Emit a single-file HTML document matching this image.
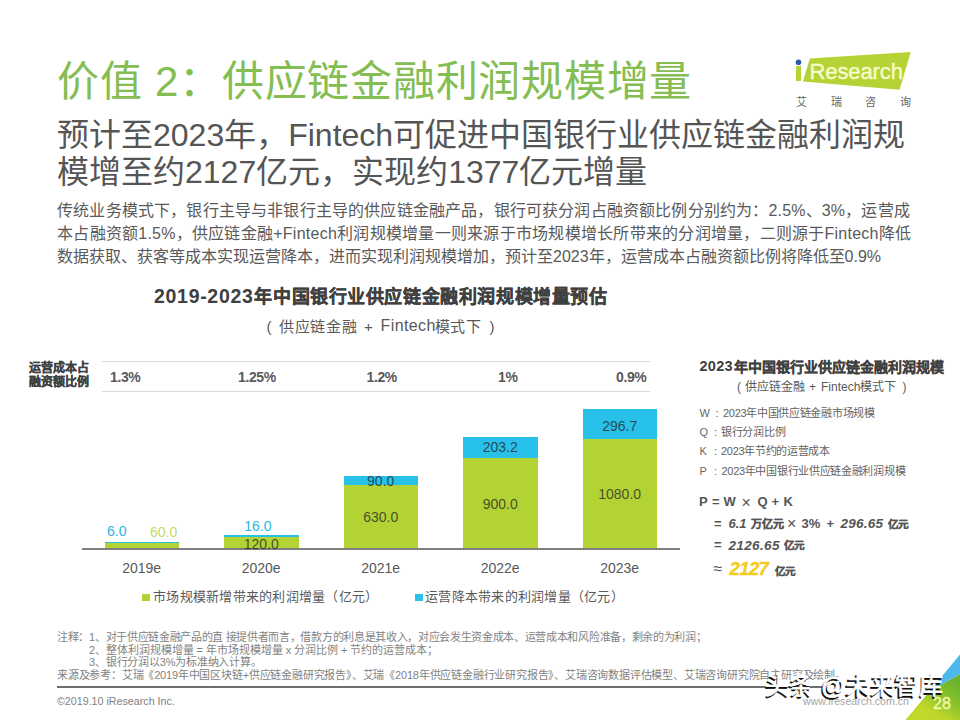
<!DOCTYPE html>
<html lang="zh-CN"><head><meta charset="utf-8">
<style>
html,body{margin:0;padding:0;background:#fff;}
body{width:960px;height:720px;position:relative;overflow:hidden;font-family:"Liberation Sans",sans-serif;color:#595959;}
.a{position:absolute;white-space:nowrap;}
</style></head><body>
<div class="a" style="left:57.20px;top:51.73px;font-size:42px;line-height:59px;color:#84bd52;letter-spacing:0.74px;">价值 2：供应链金融利润规模增量</div>
<div class="a" style="left:57.00px;top:112.90px;font-size:32px;line-height:45px;color:#555555;letter-spacing:0px;">预计至2023年，Fintech可促进中国银行业供应链金融利润规</div>
<div class="a" style="left:57.00px;top:150.40px;font-size:32px;line-height:45px;color:#555555;letter-spacing:0px;">模增至约2127亿元，实现约1377亿元增量</div>
<div class="a" style="left:57.00px;top:199.65px;font-size:16px;line-height:22px;color:#595959;letter-spacing:0.17px;">传统业务模式下，银行主导与非银行主导的供应链金融产品，银行可获分润占融资额比例分别约为：2.5%、3%，运营成</div>
<div class="a" style="left:57.00px;top:222.85px;font-size:16px;line-height:22px;color:#595959;letter-spacing:0.25px;">本占融资额1.5%，供应链金融+Fintech利润规模增量一则来源于市场规模增长所带来的分润增量，二则源于Fintech降低</div>
<div class="a" style="left:57.00px;top:245.65px;font-size:16px;line-height:22px;color:#595959;letter-spacing:0px;">数据获取、获客等成本实现运营降本，进而实现利润规模增加，预计至2023年，运营成本占融资额比例将降低至0.9%</div>
<svg class="a" style="left:0;top:0" width="960" height="120" viewBox="0 0 960 120">
  <polygon points="803,81.6 809.8,58.6 910.8,52 899.5,89.8" fill="#b5d334"/>
  <rect x="796" y="66" width="5" height="15" fill="#b5d334"/>
  <circle cx="798.5" cy="62.3" r="2.8" fill="#2b5ba8"/>
</svg>
<div class="a" style="left:809.50px;top:56.47px;font-size:22px;line-height:31px;color:#f4fbc8;letter-spacing:-0.1px;-webkit-text-stroke:0.45px #f4fbc8;">Research</div>
<div class="a" style="left:796.00px;top:94.88px;font-size:11px;line-height:15px;color:#666666;letter-spacing:23.7px;">艾瑞咨询</div>
<div class="a" style="left:154.00px;top:282.73px;font-size:19.5px;line-height:27px;color:#404040;font-weight:bold;letter-spacing:0.7px;">2019-2023</div>
<div class="a" style="left:254.40px;top:285.25px;font-size:18px;line-height:25px;color:#404040;font-weight:bold;letter-spacing:0.58px;-webkit-text-stroke:0.3px #404040;">年中国银行业供应链金融利润规模增量预估</div>
<div class="a" style="left:266.50px;top:315.69px;font-size:15px;line-height:21px;color:#595959;">(</div>
<div class="a" style="left:279.00px;top:316.30px;font-size:15px;line-height:21px;color:#595959;letter-spacing:0.7px;">供应链金融</div>
<div class="a" style="left:364.00px;top:315.69px;font-size:15px;line-height:21px;color:#595959;">+</div>
<div class="a" style="left:380.50px;top:315.05px;font-size:16px;line-height:22px;color:#595959;letter-spacing:0.4px;">Fintech</div>
<div class="a" style="left:434.50px;top:316.30px;font-size:15px;line-height:21px;color:#595959;letter-spacing:0.9px;">模式下</div>
<div class="a" style="left:489.50px;top:315.69px;font-size:15px;line-height:21px;color:#595959;">)</div>
<div class="a" style="left:29.00px;top:359.64px;font-size:12px;line-height:17px;color:#404040;font-weight:bold;-webkit-text-stroke:0.25px #404040;">运营成本占</div>
<div class="a" style="left:29.00px;top:373.64px;font-size:12px;line-height:17px;color:#404040;font-weight:bold;-webkit-text-stroke:0.25px #404040;">融资额比例</div>
<div class="a" style="left:102px;top:361px;width:548px;height:1px;background:#d9d9d9;"></div>
<div class="a" style="left:102px;top:391px;width:548px;height:1px;background:#d9d9d9;"></div>
<div class="a" style="left:110.00px;top:367.14px;font-size:14px;line-height:20px;color:#595959;font-weight:bold;letter-spacing:-0.4px;">1.3%</div>
<div class="a" style="left:238.00px;top:367.14px;font-size:14px;line-height:20px;color:#595959;font-weight:bold;letter-spacing:-0.4px;">1.25%</div>
<div class="a" style="left:366.50px;top:367.14px;font-size:14px;line-height:20px;color:#595959;font-weight:bold;letter-spacing:-0.4px;">1.2%</div>
<div class="a" style="left:498.00px;top:367.14px;font-size:14px;line-height:20px;color:#595959;font-weight:bold;letter-spacing:-0.4px;">1%</div>
<div class="a" style="left:616.00px;top:367.14px;font-size:14px;line-height:20px;color:#595959;font-weight:bold;letter-spacing:-0.4px;">0.9%</div>
<div class="a" style="left:104.5px;top:542.9px;width:74.5px;height:6.1px;background:#b3d234;"></div>
<div class="a" style="left:104.5px;top:542.29px;width:74.5px;height:0.61px;background:#27c1ea;"></div>
<div class="a" style="left:224px;top:536.81px;width:74.5px;height:12.19px;background:#b3d234;"></div>
<div class="a" style="left:224px;top:535.18px;width:74.5px;height:1.63px;background:#27c1ea;"></div>
<div class="a" style="left:343.5px;top:484.99px;width:74.5px;height:64.01px;background:#b3d234;"></div>
<div class="a" style="left:343.5px;top:475.85px;width:74.5px;height:9.14px;background:#27c1ea;"></div>
<div class="a" style="left:463px;top:457.56px;width:74.5px;height:91.44px;background:#b3d234;"></div>
<div class="a" style="left:463px;top:436.91px;width:74.5px;height:20.65px;background:#27c1ea;"></div>
<div class="a" style="left:582.5px;top:439.27px;width:74.5px;height:109.73px;background:#b3d234;"></div>
<div class="a" style="left:582.5px;top:409.13px;width:74.5px;height:30.14px;background:#27c1ea;"></div>
<div class="a" style="left:82px;top:548px;width:598px;height:2px;background:#7f7f7f;"></div>
<div class="a" style="left:107.00px;top:520.84px;font-size:14px;line-height:20px;color:#29b6e3;">6.0</div>
<div class="a" style="left:150.00px;top:521.64px;font-size:14px;line-height:20px;color:#c5d86a;">60.0</div>
<div class="a" style="left:207.89999999999998px;width:100px;text-align:center;top:517.84px;font-size:14px;line-height:16px;color:#29b6e3;">16.0</div>
<div class="a" style="left:211.2px;width:100px;text-align:center;top:535.64px;font-size:14px;line-height:16px;color:rgba(38,38,38,0.78);">120.0</div>
<div class="a" style="left:330.7px;width:100px;text-align:center;top:473.44px;font-size:14px;line-height:16px;color:rgba(38,38,38,0.78);">90.0</div>
<div class="a" style="left:330.7px;width:100px;text-align:center;top:509.44px;font-size:14px;line-height:16px;color:rgba(38,38,38,0.78);">630.0</div>
<div class="a" style="left:450.2px;width:100px;text-align:center;top:438.64px;font-size:14px;line-height:16px;color:rgba(38,38,38,0.78);">203.2</div>
<div class="a" style="left:450.2px;width:100px;text-align:center;top:495.64px;font-size:14px;line-height:16px;color:rgba(38,38,38,0.78);">900.0</div>
<div class="a" style="left:569.7px;width:100px;text-align:center;top:417.64px;font-size:14px;line-height:16px;color:rgba(38,38,38,0.78);">296.7</div>
<div class="a" style="left:569.7px;width:100px;text-align:center;top:486.44px;font-size:14px;line-height:16px;color:rgba(38,38,38,0.78);">1080.0</div>
<div class="a" style="left:91.69999999999999px;width:100px;text-align:center;top:560.14px;font-size:14px;line-height:16px;color:#595959;">2019e</div>
<div class="a" style="left:211.2px;width:100px;text-align:center;top:560.14px;font-size:14px;line-height:16px;color:#595959;">2020e</div>
<div class="a" style="left:330.7px;width:100px;text-align:center;top:560.14px;font-size:14px;line-height:16px;color:#595959;">2021e</div>
<div class="a" style="left:450.2px;width:100px;text-align:center;top:560.14px;font-size:14px;line-height:16px;color:#595959;">2022e</div>
<div class="a" style="left:569.7px;width:100px;text-align:center;top:560.14px;font-size:14px;line-height:16px;color:#595959;">2023e</div>
<div class="a" style="left:142px;top:593.5px;width:7.5px;height:7.5px;background:#b3d234;"></div>
<div class="a" style="left:153.00px;top:587.99px;font-size:13px;line-height:18px;color:#595959;letter-spacing:0.25px;">市场规模新增带来的利润增量（亿元）</div>
<div class="a" style="left:415px;top:593.5px;width:7.5px;height:7.5px;background:#27c1ea;"></div>
<div class="a" style="left:425.00px;top:587.99px;font-size:13px;line-height:18px;color:#595959;letter-spacing:0.25px;">运营降本带来的利润增量（亿元）</div>
<div class="a" style="left:699.50px;top:356.27px;font-size:14.5px;line-height:20px;color:#404040;font-weight:bold;letter-spacing:0.25px;">2023</div>
<div class="a" style="left:734.00px;top:357.14px;font-size:14px;line-height:20px;color:#404040;font-weight:bold;letter-spacing:0px;-webkit-text-stroke:0.2px #404040;">年中国银行业供应链金融利润规模</div>
<div class="a" style="left:737.00px;top:378.84px;font-size:12px;line-height:17px;color:#595959;">(</div>
<div class="a" style="left:745.00px;top:378.84px;font-size:12px;line-height:17px;color:#595959;">供应链金融</div>
<div class="a" style="left:809.00px;top:378.84px;font-size:12px;line-height:17px;color:#595959;">+</div>
<div class="a" style="left:821.00px;top:378.84px;font-size:12px;line-height:17px;color:#595959;">Fintech模式下</div>
<div class="a" style="left:902.50px;top:378.84px;font-size:12px;line-height:17px;color:#595959;">)</div>
<div class="a" style="left:699.50px;top:406.18px;font-size:11px;line-height:15px;color:#666666;">W</div>
<div class="a" style="left:715.50px;top:406.18px;font-size:11px;line-height:15px;color:#666666;">:</div>
<div class="a" style="left:723.00px;top:406.18px;font-size:11px;line-height:15px;color:#636363;letter-spacing:-0.3px;">2023年中国供应链金融市场规模</div>
<div class="a" style="left:699.50px;top:425.18px;font-size:11px;line-height:15px;color:#666666;">Q</div>
<div class="a" style="left:714.00px;top:425.18px;font-size:11px;line-height:15px;color:#666666;">:</div>
<div class="a" style="left:721.00px;top:425.18px;font-size:11px;line-height:15px;color:#636363;letter-spacing:-0.3px;">银行分润比例</div>
<div class="a" style="left:699.50px;top:444.18px;font-size:11px;line-height:15px;color:#666666;">K</div>
<div class="a" style="left:714.00px;top:444.18px;font-size:11px;line-height:15px;color:#666666;">:</div>
<div class="a" style="left:721.00px;top:444.18px;font-size:11px;line-height:15px;color:#636363;letter-spacing:-0.3px;">2023年节约的运营成本</div>
<div class="a" style="left:699.50px;top:463.68px;font-size:11px;line-height:15px;color:#666666;">P</div>
<div class="a" style="left:714.00px;top:463.68px;font-size:11px;line-height:15px;color:#666666;">:</div>
<div class="a" style="left:721.50px;top:463.68px;font-size:11px;line-height:15px;color:#636363;letter-spacing:-0.3px;">2023年中国银行业供应链金融利润规模</div>
<div class="a" style="left:699.00px;top:493.29px;font-size:13px;line-height:18px;color:#555555;font-weight:bold;">P</div>
<div class="a" style="left:712.00px;top:493.29px;font-size:13px;line-height:18px;color:#555555;font-weight:bold;">=</div>
<div class="a" style="left:723.50px;top:493.29px;font-size:13px;line-height:18px;color:#555555;font-weight:bold;">W</div>
<div class="a" style="left:741.50px;top:491.75px;font-size:16px;line-height:22px;color:#555555;font-weight:normal;">×</div>
<div class="a" style="left:757.50px;top:493.29px;font-size:13px;line-height:18px;color:#555555;font-weight:bold;">Q</div>
<div class="a" style="left:771.50px;top:493.29px;font-size:13px;line-height:18px;color:#555555;font-weight:bold;">+</div>
<div class="a" style="left:783.50px;top:493.29px;font-size:13px;line-height:18px;color:#555555;font-weight:bold;">K</div>
<div class="a" style="left:714.00px;top:514.99px;font-size:13px;line-height:18px;color:#555555;font-weight:bold;">=</div>
<div class="a" style="left:728.50px;top:514.99px;font-size:13px;line-height:18px;color:#555555;font-weight:bold;font-style:italic;">6.1</div>
<div class="a" style="left:751.00px;top:517.18px;font-size:11px;line-height:15px;color:#555555;font-weight:bold;-webkit-text-stroke:0.3px #555555;">万亿元</div>
<div class="a" style="left:787.00px;top:513.45px;font-size:16px;line-height:22px;color:#555555;font-weight:normal;">×</div>
<div class="a" style="left:801.50px;top:514.99px;font-size:13px;line-height:18px;color:#555555;font-weight:bold;">3%</div>
<div class="a" style="left:826.50px;top:514.99px;font-size:13px;line-height:18px;color:#555555;font-weight:bold;">+</div>
<div class="a" style="left:840.50px;top:514.32px;font-size:13.5px;line-height:19px;color:#555555;font-weight:bold;letter-spacing:0.25px;font-style:italic;">296.65</div>
<div class="a" style="left:887.50px;top:517.36px;font-size:10.5px;line-height:15px;color:#555555;font-weight:bold;-webkit-text-stroke:0.3px #555555;">亿元</div>
<div class="a" style="left:714.00px;top:536.49px;font-size:13px;line-height:18px;color:#555555;font-weight:bold;">=</div>
<div class="a" style="left:728.50px;top:535.82px;font-size:13.5px;line-height:19px;color:#555555;font-weight:bold;letter-spacing:0.35px;font-style:italic;">2126.65</div>
<div class="a" style="left:783.50px;top:538.36px;font-size:10.5px;line-height:15px;color:#555555;font-weight:bold;-webkit-text-stroke:0.3px #555555;">亿元</div>
<div class="a" style="left:713.50px;top:558.05px;font-size:16px;line-height:22px;color:#555555;font-weight:normal;">≈</div>
<div class="a" style="left:729.50px;top:556.18px;font-size:18.5px;line-height:26px;color:#f4cc1c;font-weight:bold;letter-spacing:-0.6px;font-style:italic;-webkit-text-stroke:0.35px #f4cc1c;">2127</div>
<div class="a" style="left:774.50px;top:564.46px;font-size:10.5px;line-height:15px;color:#555555;font-weight:bold;-webkit-text-stroke:0.3px #555555;">亿元</div>
<div class="a" style="left:57.00px;top:630.38px;font-size:11px;line-height:15px;color:#828282;letter-spacing:-0.32px;">注释：1、对于供应链金融产品的直 接提供者而言，借款方的利息是其收入，对应会发生资金成本、运营成本和风险准备，剩余的为利润；</div>
<div class="a" style="left:89.00px;top:642.68px;font-size:11px;line-height:15px;color:#828282;letter-spacing:-0.05px;">2、整体利润规模增量 = 年市场规模增量  x 分润比例 +  节约的运营成本；</div>
<div class="a" style="left:89.00px;top:655.38px;font-size:11px;line-height:15px;color:#828282;letter-spacing:-0.2px;">3、银行分润以3%为标准纳入计算。</div>
<div class="a" style="left:57.00px;top:668.28px;font-size:11px;line-height:15px;color:#828282;letter-spacing:-0.2px;">来源及参考：艾瑞《2019年中国区块链+供应链金融研究报告》、艾瑞《2018年供应链金融行业研究报告》、艾瑞咨询数据评估模型、艾瑞咨询研究院自主研究及绘制。</div>
<div class="a" style="left:57px;top:686.3px;width:765px;height:1.6px;background:#6e6e6e;"></div>
<div class="a" style="left:57.00px;top:693.59px;font-size:10.7px;line-height:15px;color:#7f7f7f;">©2019.10 iResearch Inc.</div>
<div class="a" style="left:803.00px;top:693.62px;font-size:10.6px;line-height:15px;color:#a6a6a6;">www.iresearch.com.cn</div>
<svg class="a" style="left:0;top:0" width="960" height="720">
  <defs><linearGradient id="cg" gradientUnits="userSpaceOnUse" x1="958" y1="684" x2="938" y2="716">
    <stop offset="0" stop-color="#6cb42d"/><stop offset="0.45" stop-color="#86c02c"/><stop offset="1" stop-color="#c0d82c"/></linearGradient></defs>
  <polygon points="905.5,720 929.5,691.2 960,674 960,720" fill="url(#cg)"/>
  <polygon points="929.5,691.2 960,674 960,654.5" fill="#4cb9ea"/>
</svg>
<div class="a" style="left:933.00px;top:692.75px;font-size:16px;line-height:22px;color:#f2faa8;-webkit-text-stroke:0.3px #f2faa8;">28</div>
<div class="a" style="left:763.60px;top:670.67px;font-size:24px;line-height:34px;color:#111111;letter-spacing:0.45px;-webkit-text-stroke:0.4px #111;">头条 @未来智库</div>
<div class="a" style="left:765.00px;top:669.17px;font-size:24px;line-height:34px;color:#ffffff;letter-spacing:0.45px;-webkit-text-stroke:0.7px #fff;">头条 @未来智库</div>
</body></html>
